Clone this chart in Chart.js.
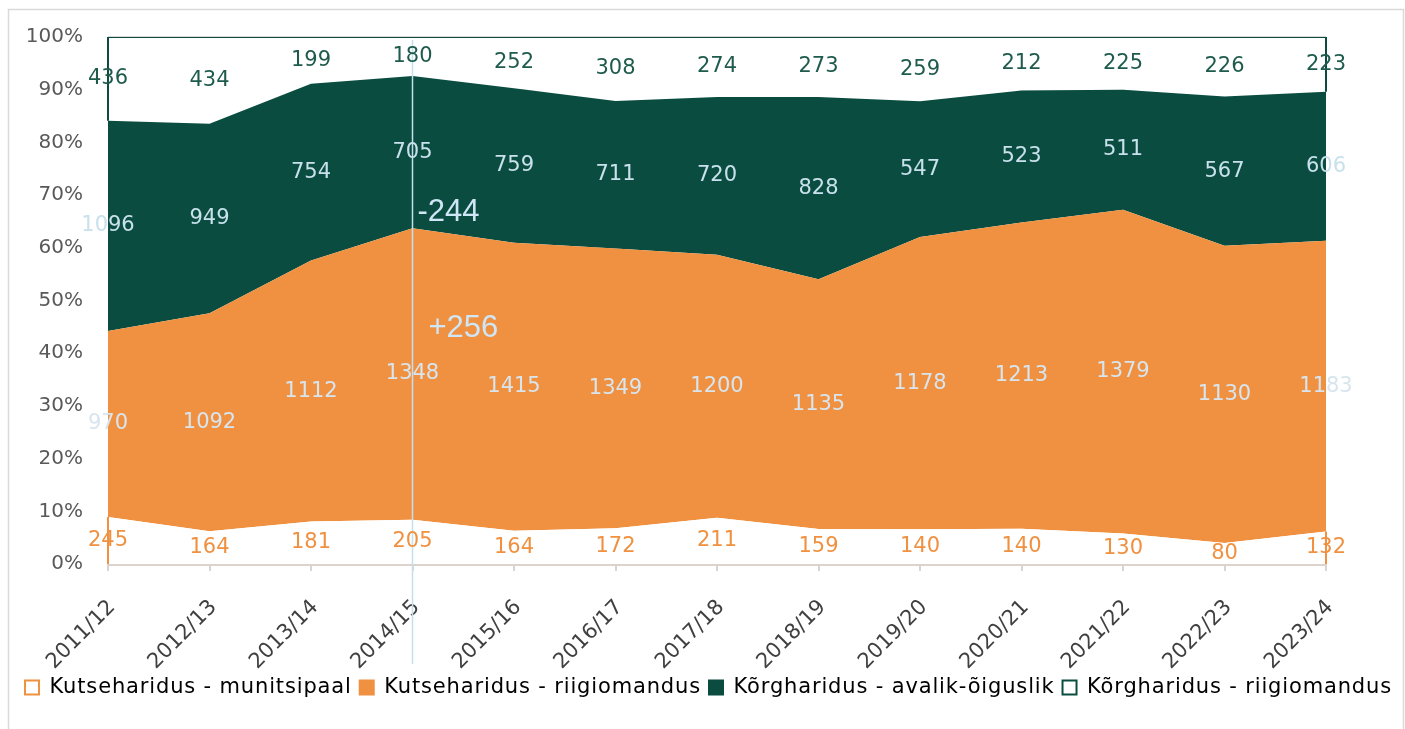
<!DOCTYPE html>
<html>
<head>
<meta charset="utf-8">
<script src="https://cdn.jsdelivr.net/npm/chart.js@4.4.1/dist/chart.umd.min.js"></script>
<style>
  html, body { margin: 0; padding: 0; background: #fff; }
</style>
</head>
<body>
<canvas id="chart" width="1405" height="729"></canvas>
<script>
const years = ["2011/12", "2012/13", "2013/14", "2014/15", "2015/16", "2016/17", "2017/18",
               "2018/19", "2019/20", "2020/21", "2021/22", "2022/23", "2023/24"];
const kutseMunitsipaal = [245, 164, 181, 205, 164, 172, 211, 159, 140, 140, 130, 80, 132];
const kutseRiik = [970, 1092, 1112, 1348, 1415, 1349, 1200, 1135, 1178, 1213, 1379, 1130, 1183];
const korgAvalik = [1096, 949, 754, 705, 759, 711, 720, 828, 547, 523, 511, 567, 606];
const korgRiik = [436, 434, 199, 180, 252, 308, 274, 273, 259, 212, 225, 226, 223];
const seriesNames = ["Kutseharidus - munitsipaal", "Kutseharidus - riigiomandus",
                     "Kõrgharidus - avalik-õiguslik", "Kõrgharidus - riigiomandus"];
// change markers drawn next to 2014/15
const markerYear = "2014/15";
const markerTexts = ["-244", "+256"];

const ORANGE = "#ef9140";
const GREEN = "#0a4d40";
const FONT = "'DejaVu Sans'";

const raw = [kutseMunitsipaal, kutseRiik, korgAvalik, korgRiik];
const totals = years.map((_, i) => raw.reduce((s, arr) => s + arr[i], 0));
const share = raw.map(arr => arr.map((v, i) => v / totals[i]));

const fills = ["#ffffff", ORANGE, GREEN, "#ffffff"];
const lines = [ORANGE, ORANGE, GREEN, GREEN];
const labelColors = [ORANGE, "#d8e5ee", "#c8e1ec", "#1f5b4d"];

// outline of the white areas (left and right edges)
const edges = {
    id: "edges",
    afterDatasetsDraw(chart) {
        const { ctx, scales: { x, y } } = chart;
        const last = years.length - 1;
        ctx.save();
        ctx.lineWidth = 2;
        [[0, ORANGE], [3, GREEN]].forEach(([d, col]) => {
            ctx.strokeStyle = col;
            [0, last].forEach(i => {
                let below = 0;
                for (let k = 0; k < d; k++) below += share[k][i];
                const px = x.getPixelForValue(i);
                ctx.beginPath();
                ctx.moveTo(px, y.getPixelForValue(below));
                ctx.lineTo(px, y.getPixelForValue(below + share[d][i]));
                ctx.stroke();
            });
        });
        ctx.restore();
    }
};

const marker = {
    id: "marker",
    afterDatasetsDraw(chart) {
        const { ctx, chartArea, scales: { x, y } } = chart;
        const px = x.getPixelForValue(years.indexOf(markerYear));
        ctx.save();
        ctx.strokeStyle = "#c4dff0";
        ctx.lineWidth = 1.5;
        ctx.beginPath();
        ctx.moveTo(px, chartArea.top + 3);
        ctx.lineTo(px, chartArea.bottom + 100);
        ctx.stroke();
        ctx.font = "31px 'Liberation Sans', Arial, sans-serif";
        ctx.fillStyle = "#cfe6f6";
        ctx.textBaseline = "middle";
        ctx.textAlign = "left";
        ctx.fillText(markerTexts[0], px + 5, y.getPixelForValue(0.667));
        ctx.fillText(markerTexts[1], px + 16, y.getPixelForValue(0.447));
        ctx.restore();
    }
};

const valueLabels = {
    id: "valueLabels",
    afterDraw(chart) {
        const { ctx, scales: { x, y } } = chart;
        ctx.save();
        ctx.font = "21px " + FONT;
        ctx.textAlign = "center";
        ctx.textBaseline = "middle";
        years.forEach((_, i) => {
            let below = 0;
            raw.forEach((arr, d) => {
                const mid = below + share[d][i] / 2;
                below += share[d][i];
                ctx.fillStyle = labelColors[d];
                ctx.fillText(String(arr[i]), x.getPixelForValue(i), y.getPixelForValue(mid));
            });
        });
        ctx.restore();
    }
};

const frame = {
    id: "frame",
    beforeDraw(chart) {
        const { ctx } = chart;
        ctx.save();
        ctx.strokeStyle = "#d9d9d9";
        ctx.lineWidth = 1.5;
        ctx.strokeRect(8.5, 9.5, 1395, 740);
        ctx.restore();
    }
};

Chart.defaults.font.family = FONT;

const chart = new Chart(document.getElementById("chart"), {
    type: "line",
    data: {
        labels: years,
        datasets: share.map((vals, d) => ({
            label: seriesNames[d],
            data: vals,
            fill: d === 0 ? "origin" : "-1",
            backgroundColor: fills[d],
            borderColor: lines[d],
            borderWidth: d === 3 ? 2 : 0,
            pointRadius: 0,
            tension: 0
        }))
    },
    options: {
        responsive: false,
        animation: false,
        layout: { padding: { left: 12, right: 0, top: 37, bottom: 21 } },
        scales: {
            x: {
                offset: false,
                grid: { display: true, drawOnChartArea: false, drawTicks: true, tickLength: 7, color: "#dcd4cc", lineWidth: 2 },
                border: { display: true, color: "#dcd4cc", width: 3 },
                ticks: { color: "#404040", font: { size: 21 }, minRotation: 45, maxRotation: 45, padding: 24, labelOffset: 4 },
                afterFit(scale) { scale.height = 105; }
            },
            y: {
                stacked: true,
                min: 0,
                max: 1,
                grid: { color: "#d9d9d9", lineWidth: 2, drawTicks: false },
                border: { display: false },
                ticks: {
                    stepSize: 0.1,
                    color: "#595959",
                    font: { size: 20 },
                    padding: 25,
                    callback: v => Math.round(v * 100) + "%"
                },
                afterFit(scale) { scale.width = 96; }
            },
            // empty right axis, only keeps the gap right of the plot
            yRight: {
                position: "right",
                min: 0,
                max: 1,
                grid: { display: false },
                border: { display: false },
                ticks: { display: false },
                afterFit(scale) { scale.width = 79; }
            }
        },
        plugins: {
            legend: {
                position: "bottom",
                labels: {
                    color: "#595959",
                    font: { size: 21 },
                    boxWidth: 14,
                    boxHeight: 14,
                    padding: 8,
                    generateLabels() {
                        return seriesNames.map((name, d) => ({
                            text: name,
                            fillStyle: fills[d],
                            strokeStyle: lines[d],
                            lineWidth: 2,
                            datasetIndex: d
                        }));
                    }
                }
            },
            tooltip: { enabled: false }
        }
    },
    plugins: [frame, edges, marker, valueLabels]
});

// wider legend lettering, like the original
const lg = chart.legend;
["fit", "draw"].forEach(fn => {
    const orig = lg[fn].bind(lg);
    lg[fn] = function () {
        chart.ctx.letterSpacing = "0.85px";
        orig();
        chart.ctx.letterSpacing = "0px";
    };
});
chart.update();
</script>
</body>
</html>
